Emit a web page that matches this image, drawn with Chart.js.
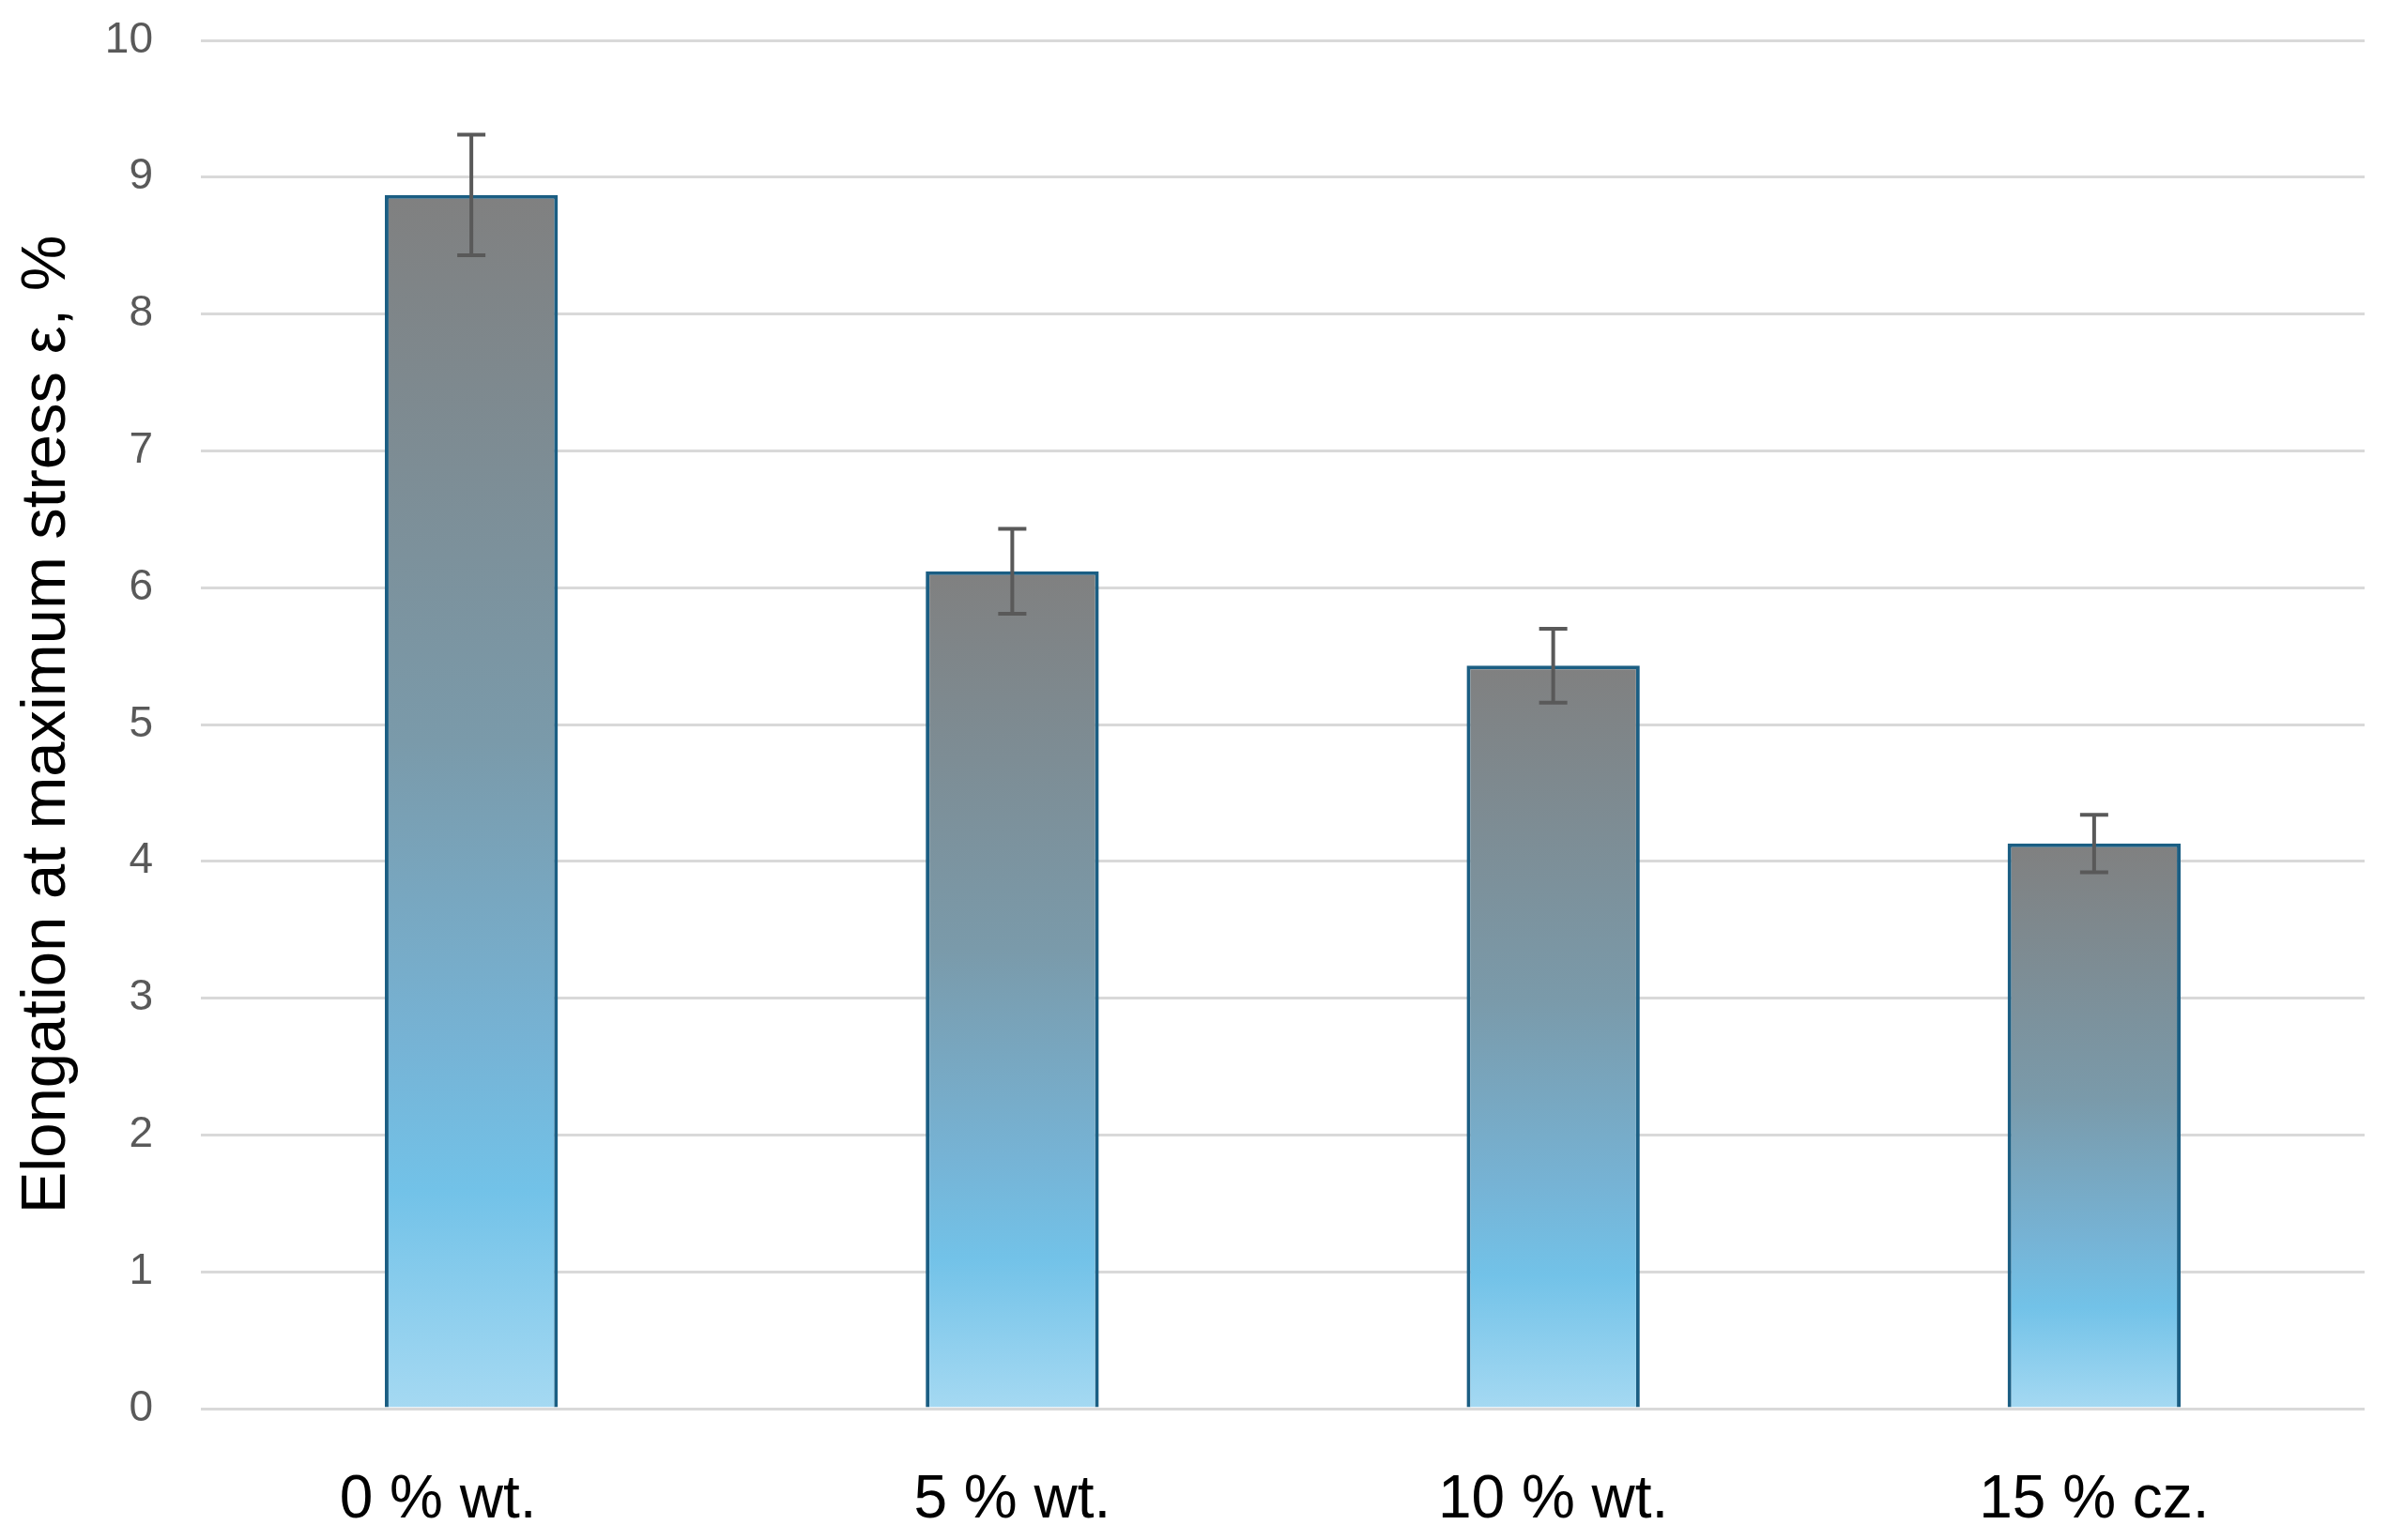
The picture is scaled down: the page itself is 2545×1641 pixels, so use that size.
<!DOCTYPE html>
<html>
<head>
<meta charset="utf-8">
<script src="https://cdn.jsdelivr.net/npm/chart.js@4.4.1/dist/chart.umd.min.js"></script>
<style>
  html, body { margin: 0; padding: 0; background: #ffffff; }
  canvas { display: block; }
</style>
</head>
<body>
<canvas id="elongChart" width="2545" height="1641"></canvas>
<script>
const categories = ["0 % wt.    ", "5 % wt.", "10 % wt.", "15 % cz."];
const elongation = [8.87, 6.12, 5.43, 4.13];
const elongationErr = [0.44, 0.31, 0.27, 0.21];
const yTicks = [0, 1, 2, 3, 4, 5, 6, 7, 8, 9, 10];
const yTitle = "Elongation at maximum stress ε, %";

const FONT = "'Liberation Sans', Arial, sans-serif";

// per-bar vertical gradient, grey at the top fading to light blue at the base
const barGradient = (context) => {
  const chart = context.chart;
  if (!chart.chartArea || context.type !== "data") return "#7aa0b5";
  const yScale = chart.scales.y;
  const top = yScale.getPixelForValue(context.raw);
  const base = yScale.getPixelForValue(0);
  const g = chart.ctx.createLinearGradient(0, top, 0, base);
  g.addColorStop(0, "#808080");
  g.addColorStop(0.45, "#7a9aaa");
  g.addColorStop(0.7, "#76b3d5");
  g.addColorStop(0.82, "#72c2e8");
  g.addColorStop(1, "#a5d9f2");
  return g;
};

const errorBars = {
  id: "errorBars",
  afterDatasetsDraw(chart) {
    const { ctx, scales } = chart;
    const meta = chart.getDatasetMeta(0);
    ctx.save();
    ctx.strokeStyle = "#595959";
    ctx.lineWidth = 4;
    meta.data.forEach((bar, i) => {
      const v = elongation[i];
      const e = elongationErr[i];
      const yHi = scales.y.getPixelForValue(v + e);
      const yLo = scales.y.getPixelForValue(v - e);
      const x = bar.x;
      const cap = 15;
      ctx.beginPath();
      ctx.moveTo(x, yHi);
      ctx.lineTo(x, yLo);
      ctx.moveTo(x - cap, yHi);
      ctx.lineTo(x + cap, yHi);
      ctx.moveTo(x - cap, yLo);
      ctx.lineTo(x + cap, yLo);
      ctx.stroke();
    });
    ctx.restore();
  }
};

new Chart(document.getElementById("elongChart").getContext("2d"), {
  type: "bar",
  data: {
    labels: categories,
    datasets: [
      {
        label: yTitle,
        data: elongation,
        backgroundColor: barGradient,
        borderColor: "#1b5e83",
        borderWidth: 4,
        borderSkipped: "bottom",
        categoryPercentage: 1,
        barPercentage: 0.32
      }
    ]
  },
  options: {
    responsive: false,
    devicePixelRatio: 1,
    animation: false,
    layout: {
      padding: { top: 43, right: 26, bottom: 0, left: 0 }
    },
    plugins: {
      legend: { display: false },
      tooltip: { enabled: false }
    },
    scales: {
      x: {
        afterFit: (scale) => { scale.height = 140; },
        grid: { display: false, drawTicks: false },
        border: { display: false },
        ticks: {
          color: "#000000",
          font: { family: FONT, size: 64 },
          padding: 60,
          maxRotation: 0
        }
      },
      y: {
        min: 0,
        max: 10,
        afterFit: (scale) => {
          scale.width = 214;
          // the wide tick padding should not push the plot area down
          scale.paddingTop = 28;
          scale.paddingBottom = 28;
        },
        afterBuildTicks: (scale) => {
          scale.ticks = yTicks.map((value) => ({ value }));
        },
        grid: { color: "#d9d9d9", lineWidth: 3, drawTicks: false },
        border: { display: false },
        ticks: {
          color: "#595959",
          font: { family: FONT, size: 46 },
          padding: 51
        },
        title: {
          display: true,
          text: yTitle,
          color: "#000000",
          font: { family: FONT, size: 67 },
          padding: { top: 10, bottom: 0 }
        }
      }
    }
  },
  plugins: [errorBars]
});
</script>
</body>
</html>
